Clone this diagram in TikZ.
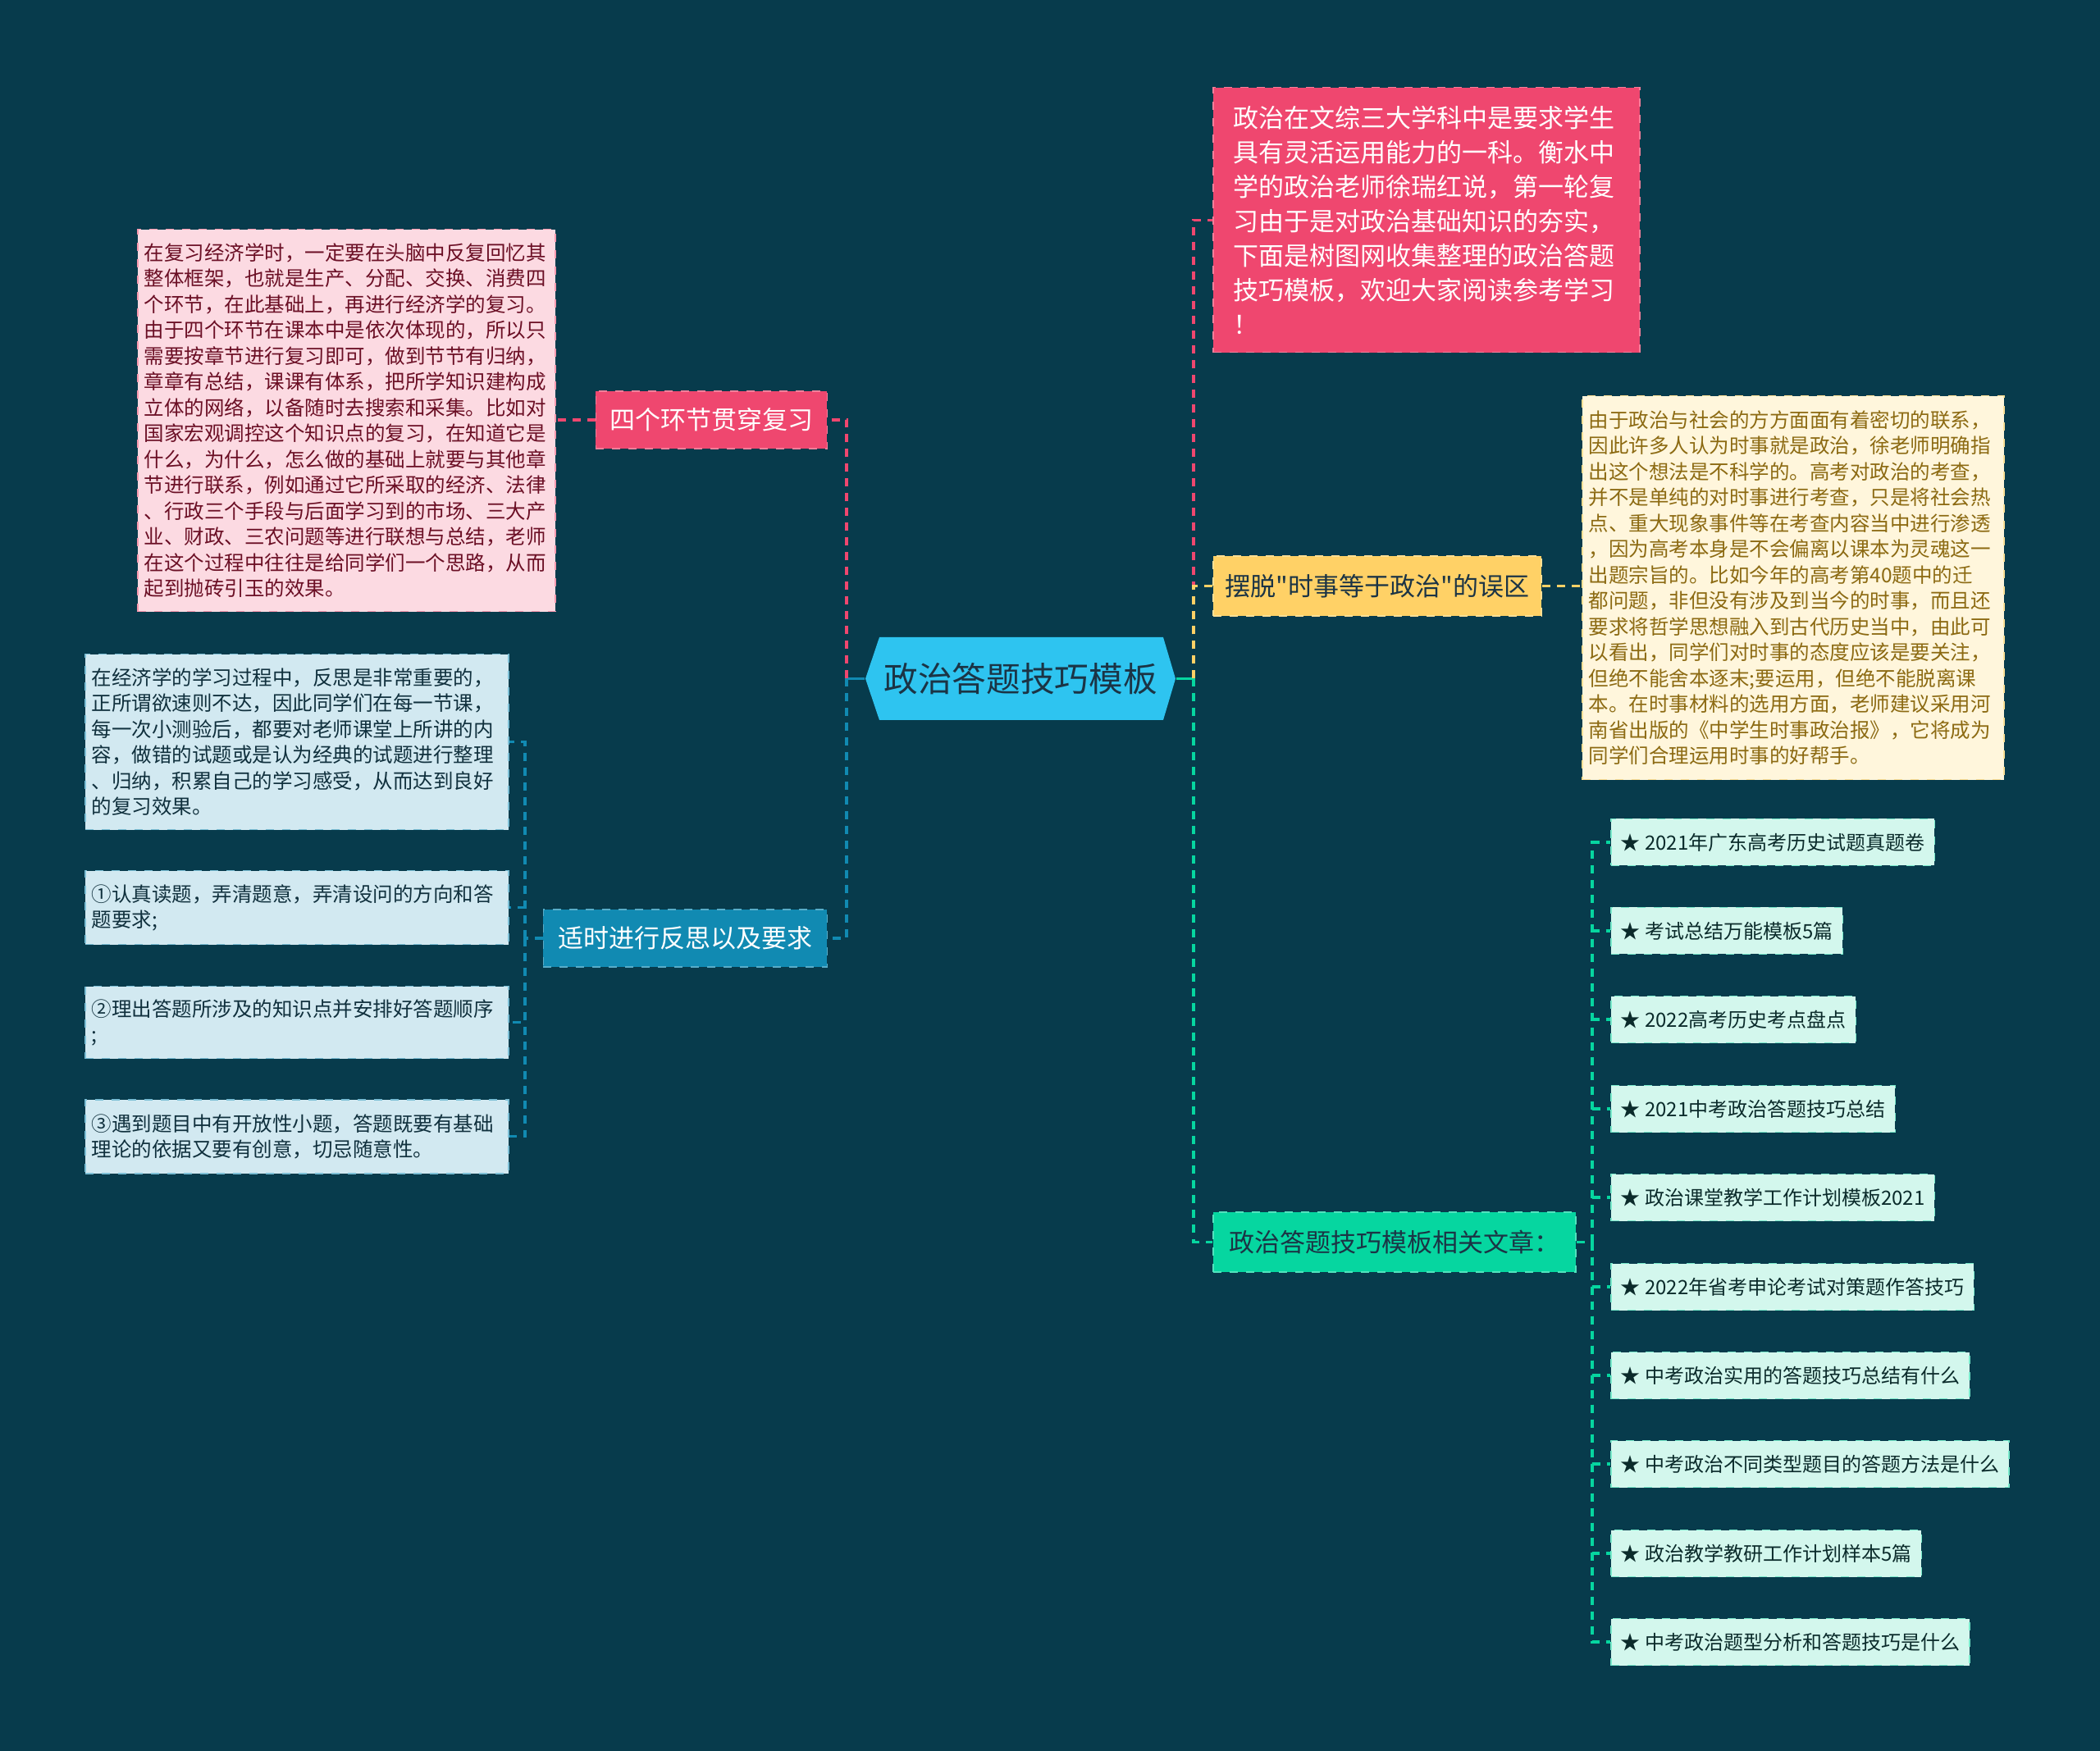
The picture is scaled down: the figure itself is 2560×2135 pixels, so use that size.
\documentclass[tikz,border=0pt]{standalone}
\usepackage{fontspec}
\setmainfont{Noto Sans CJK SC}[Ligatures=TeXOff]
\definecolor{bg}{HTML}{073B4C}
\definecolor{rootc}{HTML}{2EC4F0}
\definecolor{pinkc}{HTML}{EF476F}
\definecolor{yelc}{HTML}{FFD166}
\definecolor{grnc}{HTML}{06D6A0}
\definecolor{bluc}{HTML}{118AB2}
\definecolor{pinkl}{HTML}{FCDAE2}
\definecolor{pinkt}{HTML}{6B0F25}
\definecolor{yell}{HTML}{FFF6DC}
\definecolor{yelt}{HTML}{8C6A12}
\definecolor{blul}{HTML}{D2E9F1}
\definecolor{blut}{HTML}{10303D}
\definecolor{grnl}{HTML}{D3F7ED}
\definecolor{grnt}{HTML}{0B2B2B}
\definecolor{darkt}{HTML}{1B3445}
\tikzset{
  conn/.style={line width=1pt, dash pattern=on 3pt off 2.4pt},
  stub/.style={line width=1pt},
  boxb/.style={draw, dashed, line width=0.45pt},
  det/.style={boxb, inner ysep=0pt, inner xsep=2.4pt, align=left, anchor=north west,
     font=\fontsize{7.35pt}{9.45pt}\selectfont},
  lab/.style={boxb, inner ysep=0pt, inner xsep=4.5pt, minimum height=21pt,
     font=\fontsize{9.3pt}{11pt}\selectfont},
  item/.style={boxb, fill=grnl, draw=grnc!45!grnl, text=grnt, inner ysep=0pt, inner xsep=3.6pt,
     minimum height=17.1pt, anchor=west, font=\fontsize{7.2pt}{9pt}\selectfont},
}
\begin{document}
\begin{tikzpicture}[x=0.3pt,y=-0.3pt]
\fill[bg] (0,0) rectangle (2560,2135);
\useasboundingbox (0,0) rectangle (2560,2135);

% root hexagon
\fill[rootc] (1055,827.5) -- (1072,777) -- (1418,777) -- (1433,827.5) -- (1418,878) -- (1072,878) -- cycle;
\node[minimum width=113.4pt, minimum height=30.3pt, inner sep=0pt, text=darkt,
  font=\fontsize{12.5pt}{14pt}\selectfont] (root) at (1244,827.5) {政治答题技巧模板};

\coordinate (rt) at (1455,827.5);
\coordinate (lt) at (1032,827.5);
\coordinate (bt) at (640,1144);
\coordinate (st) at (1941,1514.5);

% right branches
\node[boxb, fill=pinkc, draw=pinkc!70!white, text=white, inner xsep=7.5pt, inner ysep=0pt,
  text width=141pt, minimum height=96.9pt, align=left, anchor=north west,
  font=\fontsize{9.3pt}{12.6pt}\selectfont] (intro) at (1478,106) {政治在文综三大学科中是要求学生\\具有灵活运用能力的一科。衡水中\\学的政治老师徐瑞红说，第一轮复\\习由于是对政治基础知识的夯实，\\下面是树图网收集整理的政治答题\\技巧模板，欢迎大家阅读参考学习\\！};

\node[lab, fill=yelc, draw=yelc!70!white, text=darkt, anchor=west, minimum height=21.9pt] (yn) at (1478,714.5) {摆脱"时事等于政治"的误区};

\node[det, fill=yell, draw=yelc!60!yell, text=yelt, text width=149.4pt, minimum height=140.4pt] (yd) at (1928,482) {由于政治与社会的方方面面有着密切的联系，\\因此许多人认为时事就是政治，徐老师明确指\\出这个想法是不科学的。高考对政治的考查，\\并不是单纯的对时事进行考查，只是将社会热\\点、重大现象事件等在考查内容当中进行渗透\\，因为高考本身是不会偏离以课本为灵魂这一\\出题宗旨的。比如今年的高考第40题中的迁\\都问题，非但没有涉及到当今的时事，而且还\\要求将哲学思想融入到古代历史当中，由此可\\以看出，同学们对时事的态度应该是要关注，\\但绝不能舍本逐末;要运用，但绝不能脱离课\\本。在时事材料的选用方面，老师建议采用河\\南省出版的《中学生时事政治报》，它将成为\\同学们合理运用时事的好帮手。};

\node[lab, fill=grnc, draw=grnc!70!white, text=darkt, anchor=west, minimum height=21.9pt,
  minimum width=132.6pt] (gn) at (1478,1514.5) {政治答题技巧模板相关文章：};

\node[item] (s1) at (1963,1027) {★ 2021年广东高考历史试题真题卷};
\node[item] (s2) at (1963,1135) {★ 考试总结万能模板5篇};
\node[item] (s3) at (1963,1243) {★ 2022高考历史考点盘点};
\node[item] (s4) at (1963,1352) {★ 2021中考政治答题技巧总结};
\node[item] (s5) at (1963,1460) {★ 政治课堂教学工作计划模板2021};
\node[item] (s6) at (1963,1569) {★ 2022年省考申论考试对策题作答技巧};
\node[item] (s7) at (1963,1677) {★ 中考政治实用的答题技巧总结有什么};
\node[item] (s8) at (1963,1785) {★ 中考政治不同类型题目的答题方法是什么};
\node[item] (s9) at (1963,1894) {★ 政治教学教研工作计划样本5篇};
\node[item] (s10) at (1963,2002) {★ 中考政治题型分析和答题技巧是什么};

% left branches
\node[lab, fill=pinkc, draw=pinkc!70!white, text=white, anchor=east, minimum width=84.6pt] (pn) at (1009,512) {四个环节贯穿复习};
\node[det, fill=pinkl, draw=pinkc!45!pinkl, text=pinkt, text width=147.9pt, minimum height=139.8pt] (pd) at (167,279) {在复习经济学时，一定要在头脑中反复回忆其\\整体框架，也就是生产、分配、交换、消费四\\个环节，在此基础上，再进行经济学的复习。\\由于四个环节在课本中是依次体现的，所以只\\需要按章节进行复习即可，做到节节有归纳，\\章章有总结，课课有体系，把所学知识建构成\\立体的网络，以备随时去搜索和采集。比如对\\国家宏观调控这个知识点的复习，在知道它是\\什么，为什么，怎么做的基础上就要与其他章\\节进行联系，例如通过它所采取的经济、法律\\、行政三个手段与后面学习到的市场、三大产\\业、财政、三农问题等进行联想与总结，老师\\在这个过程中往往是给同学们一个思路，从而\\起到抛砖引玉的效果。};

\node[lab, fill=bluc, draw=bluc!70!white, text=white, anchor=east, minimum width=103.8pt] (bn) at (1009,1144) {适时进行反思以及要求};
\tikzset{bdet/.style={det, fill=blul, draw=bluc!45!blul, text=blut, text width=150pt}}
\node[bdet, minimum height=64.2pt] (b1) at (103,797) {在经济学的学习过程中，反思是非常重要的，\\正所谓欲速则不达，因此同学们在每一节课，\\每一次小测验后，都要对老师课堂上所讲的内\\容，做错的试题或是认为经典的试题进行整理\\、归纳，积累自己的学习感受，从而达到良好\\的复习效果。};
\node[bdet, minimum height=27pt] (b2) at (103,1061) {①认真读题，弄清题意，弄清设问的方向和答\\题要求;};
\node[bdet, minimum height=26.4pt] (b3) at (103,1202) {②理出答题所涉及的知识点并安排好答题顺序\\;};
\node[bdet, minimum height=27pt] (b4) at (103,1340) {③遇到题目中有开放性小题，答题既要有基础\\理论的依据又要有创意，切忌随意性。};

% connectors right
\draw[stub, grnc] (root.east) -- (rt);
\draw[conn, grnc] (rt) |- (gn.west);
\draw[conn, pinkc] (rt) |- (intro.west);
\draw[conn, yelc] (rt) |- (yn.west);
\draw[conn, yelc] (yn.east) -- (yn.east -| yd.west);
\draw[conn, grnc] (gn.east) -- (st);
\foreach \s in {s1,s2,s3,s4,s5,s6,s7,s8,s9,s10}
  \draw[conn, grnc] (st) |- (\s.west);

% connectors left
\draw[stub, bluc] (root.west) -- (lt);
\draw[conn, pinkc] (lt) |- (pn.east);
\draw[conn, bluc] (lt) |- (bn.east);
\draw[conn, pinkc] (pn.west) -- (pn.west -| pd.east);
\draw[conn, bluc] (bn.west) -- (bt);
\foreach \b in {b1,b2,b3,b4}
  \draw[conn, bluc] (bt) |- (\b.east);
\end{tikzpicture}
\end{document}
